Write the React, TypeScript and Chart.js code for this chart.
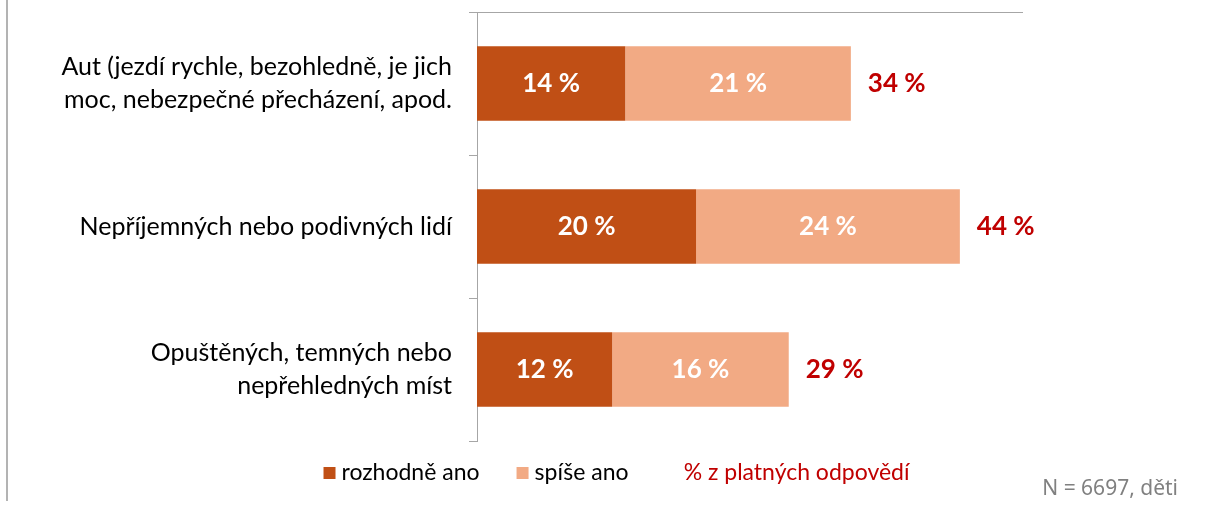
import { useEffect, useRef } from "react";
import { Chart, registerables } from "chart.js";

Chart.register(...registerables);

const categories: string[][] = [
  ["Aut (jezdí rychle, bezohledně, je jich", "moc, nebezpečné přecházení, apod."],
  ["Nepříjemných nebo podivných lidí"],
  ["Opuštěných, temných nebo", "nepřehledných míst"],
];
const seriesNames = ["rozhodně ano", "spíše ano", "% z platných odpovědí"];
const definitelyYes = [13.6, 20.1, 12.4];
const ratherYes = [20.7, 24.2, 16.2];
const axisTicks = { min: 0, max: 50 };
const note = "N = 6697, děti";

const DARK = "#C04F15";
const LIGHT = "#F2AA84";
const RED = "#C00000";
const AXIS = "#A6A6A6";
const FONT = "Lato";

const labelsPlugin = {
  id: "barLabels",
  beforeDraw(chart: any) {
    const ctx = chart.ctx;
    ctx.save();
    ctx.fillStyle = "#B3B3B3";
    ctx.fillRect(6, 0, 2, 501);
    ctx.restore();
  },
  afterDatasetsDraw(chart: any) {
    const ctx = chart.ctx;
    ctx.save();
    ctx.font = `bold 26px ${FONT}`;
    ctx.textBaseline = "middle";
    ctx.textAlign = "center";
    ctx.fillStyle = "#FFFFFF";
    [0, 1].forEach((di) => {
      const meta = chart.getDatasetMeta(di);
      meta.data.forEach((el: any, i: number) => {
        const v = chart.data.datasets[di].data[i] as number;
        const { x, base, y } = el.getProps(["x", "base", "y"], true);
        ctx.fillText(`${Math.round(v)} %`, (x + base) / 2, y);
      });
    });
    const last = chart.getDatasetMeta(1);
    ctx.textAlign = "left";
    ctx.fillStyle = RED;
    last.data.forEach((el: any, i: number) => {
      const total = definitelyYes[i] + ratherYes[i];
      const { x, y } = el.getProps(["x", "y"], true);
      ctx.fillText(`${Math.round(total)} %`, x + 17, y);
    });
    ctx.restore();
  },
  afterDraw(chart: any) {
    const ctx = chart.ctx;
    ctx.save();
    // legend
    ctx.font = `23px ${FONT}`;
    ctx.textBaseline = "middle";
    ctx.textAlign = "left";
    const items = [
      { text: seriesNames[0], color: DARK, textColor: "#000000", box: true },
      { text: seriesNames[1], color: LIGHT, textColor: "#000000", box: true },
      { text: seriesNames[2], color: "", textColor: RED, box: false },
    ];
    const box = 12;
    const gap = 6;
    const spacing = 37;
    const widths = items.map((it) => (it.box ? box + gap : 0) + ctx.measureText(it.text).width);
    const total = widths.reduce((a, b) => a + b, 0) + spacing * (items.length - 1) + 18;
    let x = 616.5 - total / 2;
    const cy = 473;
    items.forEach((it) => {
      if (it.box) {
        ctx.fillStyle = it.color;
        ctx.fillRect(x, cy - 6, box, box);
        x += box + gap;
      } else {
        x += 18;
      }
      ctx.fillStyle = it.textColor;
      ctx.fillText(it.text, x, cy);
      x += ctx.measureText(it.text).width + spacing;
    });
    // note
    ctx.font = `21px "Noto Sans"`;
    ctx.fillStyle = "#808080";
    ctx.textAlign = "right";
    ctx.fillText(note, 1178, 489);
    ctx.restore();
  },
};

export default function App() {
  const ref = useRef<HTMLCanvasElement | null>(null);
  useEffect(() => {
    document.body.style.margin = "0";
    const canvas = ref.current;
    if (!canvas) return;
    const chart = new Chart(canvas, {
      type: "bar",
      data: {
        labels: categories,
        datasets: [
          {
            label: seriesNames[0],
            data: definitelyYes,
            backgroundColor: DARK,
            barPercentage: 0.52,
            categoryPercentage: 1,
          },
          {
            label: seriesNames[1],
            data: ratherYes,
            backgroundColor: LIGHT,
            barPercentage: 0.52,
            categoryPercentage: 1,
          },
        ],
      },
      options: {
        indexAxis: "y",
        responsive: false,
        animation: false,
        devicePixelRatio: 1,
        layout: { padding: { top: 12, right: 186, bottom: 66, left: 0 } },
        plugins: {
          legend: { display: false },
          tooltip: { enabled: false },
        },
        scales: {
          x: {
            type: "linear",
            position: "top",
            stacked: true,
            min: axisTicks.min,
            max: axisTicks.max,
            grid: { display: false },
            ticks: { display: false },
            border: { display: true, color: AXIS, width: 1 },
            afterFit: (s: any) => {
              s.height = 0;
              s.paddingLeft = 0;
              s.paddingRight = 0;
            },
          },
          y: {
            type: "category",
            stacked: true,
            offset: true,
            grid: {
              display: true,
              drawOnChartArea: false,
              drawTicks: true,
              tickLength: 8,
              color: AXIS,
              offset: true,
            },
            border: { display: true, color: AXIS, width: 1 },
            ticks: {
              color: "#000000",
              padding: 17,
              font: { family: FONT, size: 25, lineHeight: 1.32 },
            },
            afterFit: (s: any) => {
              s.width = 477;
              s.paddingTop = 0;
              s.paddingBottom = 0;
            },
          },
        },
      },
      plugins: [labelsPlugin],
    });
    return () => chart.destroy();
  }, []);
  return (
    <canvas
      ref={ref}
      width={1208}
      height={507}
      style={{ display: "block", width: 1208, height: 507 }}
    />
  );
}
